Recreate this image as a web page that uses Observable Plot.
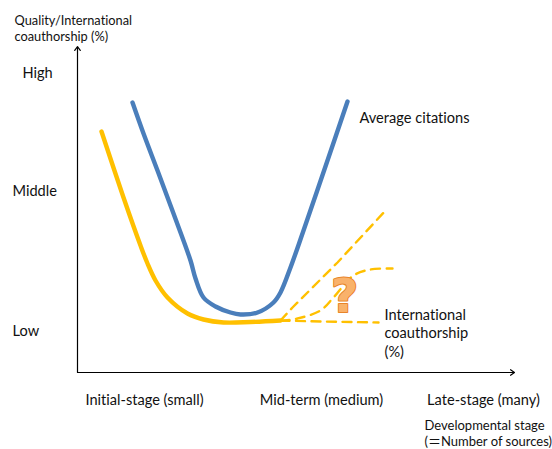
<!DOCTYPE html>
<html><head><meta charset="utf-8">
<script src="https://cdn.jsdelivr.net/npm/d3@7"></script>
<script src="https://cdn.jsdelivr.net/npm/@observablehq/plot@0.6"></script>
<style>html,body{margin:0;padding:0;background:#fff}svg{display:block}svg text{font-variant-ligatures:none}</style>
</head><body><div id="chart"></div>
<script>
// Values are measured from the origin of the two axes: stage to the right, level upward.
const citations = [[55,270],[66,239],[80,202],[96,159],[113,112],[118,94],[126,75],[138,66],[153,60],[163,58],[180,60],[196,70],[203,80],[213,105],[225,139],[250,212],[270,271]];
const coauthorship = [[24,241],[46,175],[63,127],[70,109],[78,92],[90,75],[110,59],[126,53],[146,50],[173,50.5],[203,52]];
const scenarioHigh = [[203,52],[215,65],[260,110],[309,163]];
const scenarioMid = [[203,51.5],[220,54],[243,62],[256,75],[276,97],[293,103],[315,104]];
const scenarioFlat = [[203,52],[243,51],[301,50]];
const toPoints = a => a.map(([x, y]) => ({x, y}));

const yLabels = ["High", "Middle", "Low"];
const yLabelX = [-55, -65, -65];
const yLabelY = [299, 181, 41];
const xLabels = ["Initial-stage (small)", "Mid-term (medium)", "Late-stage (many)"];
const xLabelX = [67, 244, 406];
const xLabelRowY = -28;
const notes = [
  {t: "Quality/International\ncoauthorship (%)", x: -63, y: 345, s: 12.8},
  {t: "Average citations", x: 282, y: 255, s: 14.6},
  {t: "International\ncoauthorship\n(%)", x: 307, y: 40, s: 14.6},
  {t: "Developmental stage\n(＝Number of sources)", x: 347, y: -60, s: 13}
];
const BLUE = "#4a7ebb", GOLD = "#ffc000";

const plot = Plot.plot({
  width: 552, height: 449,
  margin: 0,
  x: {domain: [-77, 475], axis: null},
  y: {domain: [-77, 372], axis: null},
  style: {fontFamily: "Lato, 'Noto Sans CJK JP', sans-serif", background: "#fff"},
  marks: [
    Plot.line(toPoints(scenarioHigh), {x: "x", y: "y", stroke: GOLD, strokeWidth: 2.4, strokeDasharray: "9 6.5", curve: "linear"}),
    Plot.line(toPoints(scenarioMid), {x: "x", y: "y", stroke: GOLD, strokeWidth: 2.4, strokeDasharray: "9 6.5", curve: "catmull-rom"}),
    Plot.line(toPoints(scenarioFlat), {x: "x", y: "y", stroke: GOLD, strokeWidth: 2.4, strokeDasharray: "9 6.5", curve: "linear"}),
    Plot.line(toPoints(coauthorship), {x: "x", y: "y", stroke: GOLD, strokeWidth: 4.4, curve: "catmull-rom"}),
    Plot.line(toPoints(citations), {x: "x", y: "y", stroke: BLUE, strokeWidth: 4.4, curve: "catmull-rom"}),
    Plot.arrow([{x1: 0, y1: 0, x2: 0, y2: 326}], {x1: "x1", y1: "y1", x2: "x2", y2: "y2", stroke: "#000", strokeWidth: 1.2, headLength: 6, headAngle: 70}),
    Plot.arrow([{x1: 0, y1: 0, x2: 437, y2: 0}], {x1: "x1", y1: "y1", x2: "x2", y2: "y2", stroke: "#000", strokeWidth: 1.2, headLength: 6, headAngle: 70}),
    Plot.text(yLabels, {x: (d, i) => yLabelX[i], y: (d, i) => yLabelY[i], text: d => d, textAnchor: "start", fontSize: 14.6, fill: "#111"}),
    Plot.text(xLabels, {x: (d, i) => xLabelX[i], y: xLabelRowY, text: d => d, textAnchor: "middle", fontSize: 14.6, fill: "#111"}),
    Plot.text(notes, {x: "x", y: "y", text: "t", fontSize: "s", textAnchor: "start", lineAnchor: "middle", lineHeight: 1.27, fill: "#111"}),
    Plot.text(["?"], {x: 267, y: 76, text: d => d, fontSize: 47, fontWeight: 900, fontFamily: "'DejaVu Sans', sans-serif", fill: "#f9b26b", stroke: "#e8842a", strokeWidth: 2})
  ]
});
document.getElementById("chart").append(plot);
</script></body></html>
